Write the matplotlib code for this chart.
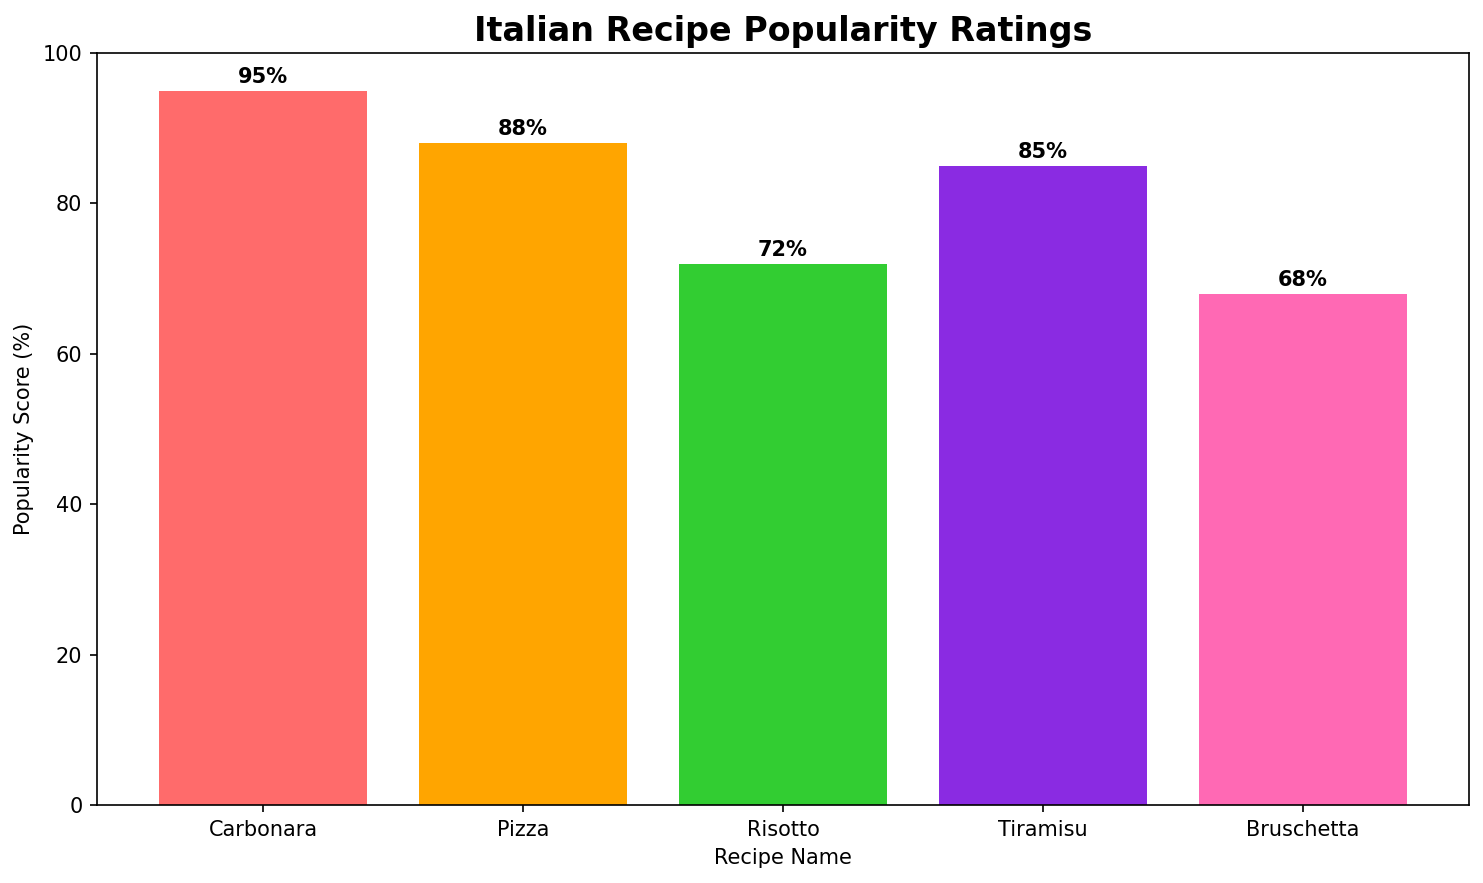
import matplotlib
matplotlib.use("Agg")
import matplotlib.pyplot as plt

recipes = ["Carbonara", "Pizza", "Risotto", "Tiramisu", "Bruschetta"]
scores = [95, 88, 72, 85, 68]
colors = ["#FF6B6B", "#FFA500", "#32CD32", "#8A2BE2", "#FF69B4"]

DPI = 150
fig = plt.figure(figsize=(1483/DPI, 883/DPI), dpi=DPI)
ax = fig.add_axes([97/1483, 1-805/883, (1469-97)/1483, (805-53)/883])
bars = ax.bar(recipes, scores, color=colors, width=0.8)
for b, s in zip(bars, scores):
    ax.text(b.get_x() + b.get_width()/2, b.get_height() + 0.5, f"{s}%",
            ha="center", va="bottom", fontweight="bold", fontsize=10)
ax.set_ylim(0, 100)
ax.set_title("Italian Recipe Popularity Ratings", fontsize=16, fontweight="bold")
ax.set_xlabel("Recipe Name", fontsize=10)
ax.set_ylabel("Popularity Score (%)", fontsize=10)
ax.tick_params(labelsize=10)
fig.savefig("out.png", dpi=DPI)
